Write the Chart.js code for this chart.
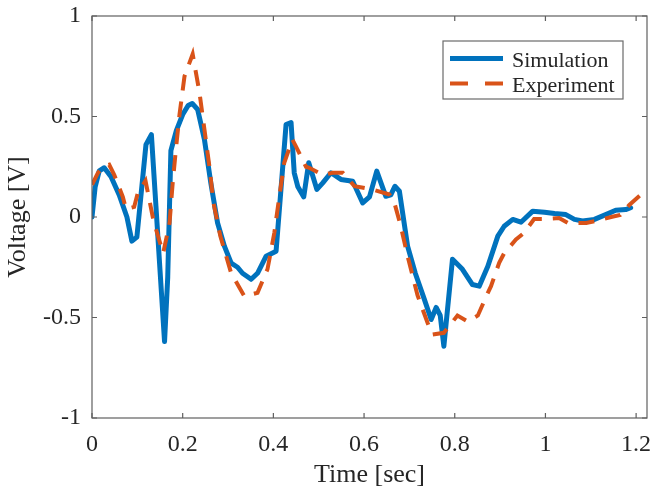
<!DOCTYPE html>
<html>
<head>
<meta charset="utf-8">
<script src="https://cdn.jsdelivr.net/npm/chart.js@4.4.1/dist/chart.umd.min.js"></script>
<style>
  html, body { margin: 0; padding: 0; background: #fff; }
  #wrap { width: 650px; height: 493px; }
</style>
</head>
<body>
<div id="wrap"><canvas id="voltageChart" width="650" height="493"></canvas></div>
<script>
'use strict';

// Simulated response
const simTime = [0, 0.007, 0.016, 0.027, 0.042, 0.060, 0.077, 0.088, 0.099, 0.119, 0.131, 0.160, 0.167, 0.174, 0.186,
  0.200, 0.212, 0.221, 0.233, 0.248, 0.262, 0.277, 0.292, 0.307, 0.321, 0.332, 0.351, 0.365, 0.384, 0.406,
  0.428, 0.439, 0.446, 0.454, 0.467, 0.478, 0.496, 0.509, 0.527, 0.549, 0.575, 0.597, 0.612, 0.628, 0.648,
  0.659, 0.668, 0.678, 0.696, 0.713, 0.733, 0.748, 0.759, 0.768, 0.776, 0.795, 0.817, 0.839, 0.854, 0.873,
  0.895, 0.909, 0.928, 0.946, 0.972, 0.998, 1.020, 1.045, 1.064, 1.082, 1.108, 1.133, 1.155, 1.177, 1.188];
const simVoltage = [0, 0.15, 0.23, 0.245, 0.20, 0.11, 0.0, -0.12, -0.10, 0.36, 0.41, -0.62, -0.30, 0.33, 0.43,
  0.51, 0.555, 0.565, 0.535, 0.385, 0.17, -0.03, -0.145, -0.23, -0.25, -0.28, -0.31, -0.28, -0.195, -0.17,
  0.46, 0.47, 0.22, 0.15, 0.10, 0.27, 0.137, 0.17, 0.22, 0.187, 0.178, 0.07, 0.10, 0.228, 0.103,
  0.11, 0.153, 0.128, -0.145, -0.28, -0.41, -0.51, -0.45, -0.49, -0.643, -0.21, -0.26, -0.336, -0.344, -0.245,
  -0.095, -0.046, -0.012, -0.026, 0.029, 0.024, 0.017, 0.012, -0.012, -0.02, -0.012, 0.012, 0.034, 0.037, 0.046];

// Measured response
const expTime = [0, 0.013, 0.025, 0.038, 0.049, 0.068, 0.075, 0.093, 0.101, 0.118, 0.134, 0.141, 0.157, 0.171,
  0.178, 0.185, 0.193, 0.204, 0.222, 0.237, 0.248, 0.259, 0.268, 0.283, 0.307, 0.336, 0.365, 0.387, 0.402,
  0.413, 0.424, 0.442, 0.450, 0.472, 0.479, 0.509, 0.531, 0.553, 0.579, 0.618, 0.656, 0.667, 0.681, 0.696,
  0.718, 0.740, 0.751, 0.776, 0.806, 0.829, 0.851, 0.873, 0.880, 0.898, 0.909, 0.935, 0.953, 0.975, 0.995,
  1.030, 1.050, 1.090, 1.110, 1.145, 1.165, 1.185, 1.210];
const expVoltage = [0.16, 0.22, 0.25, 0.26, 0.21, 0.10, 0.04, 0.05, 0.12, 0.18, 0.0, -0.06, -0.18, -0.03,
  0.17, 0.336, 0.51, 0.70, 0.81, 0.62, 0.435, 0.25, 0.07, -0.095, -0.28, -0.394, -0.377, -0.26, -0.08,
  0.10, 0.27, 0.385, 0.35, 0.25, 0.245, 0.21, 0.22, 0.22, 0.153, 0.137, 0.112, 0.07, -0.046, -0.195,
  -0.39, -0.526, -0.585, -0.576, -0.49, -0.52, -0.49, -0.377, -0.344, -0.228, -0.18, -0.112, -0.079, -0.01, -0.01,
  -0.005, -0.03, -0.03, -0.02, 0.0, 0.01, 0.06, 0.11];

const xTicks = [0, 0.2, 0.4, 0.6, 0.8, 1, 1.2];
const yTicks = [-1, -0.5, 0, 0.5, 1];
const seriesLabels = ['Simulation', 'Experiment'];

const serif = '"Times New Roman", "Liberation Serif", serif';
const axisColor = '#5f5f5f';
const textColor = '#262626';

function toPoints(xs, ys) {
    return xs.map((x, i) => ({ x: x, y: ys[i] }));
}

// box round the plot area, ticks pointing inward on all four sides
const boxAxesPlugin = {
    id: 'boxAxes',
    afterDatasetsDraw(chart) {
        const { ctx, chartArea: a, scales } = chart;
        const len = 5;
        ctx.save();
        ctx.strokeStyle = axisColor;
        ctx.lineWidth = 1.2;
        ctx.strokeRect(a.left, a.top, a.right - a.left, a.bottom - a.top);
        ctx.beginPath();
        xTicks.forEach(v => {
            const px = scales.x.getPixelForValue(v);
            ctx.moveTo(px, a.bottom); ctx.lineTo(px, a.bottom - len);
            ctx.moveTo(px, a.top); ctx.lineTo(px, a.top + len);
        });
        yTicks.forEach(v => {
            const py = scales.y.getPixelForValue(v);
            ctx.moveTo(a.left, py); ctx.lineTo(a.left + len, py);
            ctx.moveTo(a.right, py); ctx.lineTo(a.right - len, py);
        });
        ctx.stroke();
        ctx.restore();
    }
};

// framed legend in the upper right corner
const boxLegendPlugin = {
    id: 'boxLegend',
    afterDraw(chart, args, opts) {
        const { ctx } = chart;
        ctx.save();
        ctx.fillStyle = '#fff';
        ctx.fillRect(opts.left, opts.top, opts.width, opts.height);
        ctx.strokeStyle = '#6a6a6a';
        ctx.lineWidth = 1.2;
        ctx.strokeRect(opts.left, opts.top, opts.width, opts.height);

        ctx.font = opts.fontSize + 'px ' + serif;
        ctx.textBaseline = 'alphabetic';
        chart.data.datasets.forEach((ds, i) => {
            const rowY = opts.firstRow + i * opts.rowGap;
            ctx.strokeStyle = ds.borderColor;
            ctx.lineWidth = ds.borderWidth;
            ctx.setLineDash(ds.borderDash ? opts.legendDash : []);
            ctx.beginPath();
            ctx.moveTo(opts.lineStart, rowY);
            ctx.lineTo(opts.lineEnd, rowY);
            ctx.stroke();
            ctx.setLineDash([]);
            ctx.fillStyle = textColor;
            ctx.fillText(ds.label, opts.textX, rowY + 8.3);
        });
        ctx.restore();
    }
};

const ctx = document.getElementById('voltageChart').getContext('2d');

const voltageChart = new Chart(ctx, {
    type: 'line',
    data: {
        datasets: [
            {
                label: seriesLabels[0],
                data: toPoints(simTime, simVoltage),
                borderColor: '#0072BD',
                borderWidth: 5,
                borderJoinStyle: 'round',
                borderCapStyle: 'round',
                pointRadius: 0,
                tension: 0,
                order: 2
            },
            {
                label: seriesLabels[1],
                data: toPoints(expTime, expVoltage),
                borderColor: '#D95319',
                borderWidth: 4,
                borderDash: [16, 11],
                pointRadius: 0,
                tension: 0,
                order: 1
            }
        ]
    },
    options: {
        responsive: false,
        animation: false,
        devicePixelRatio: 1,
        layout: {
            padding: { top: 16, right: 3, left: 0, bottom: 0 }
        },
        plugins: {
            legend: { display: false },
            tooltip: { enabled: false },
            boxLegend: {
                left: 443, top: 41, width: 180, height: 58,
                firstRow: 58.5, rowGap: 25,
                lineStart: 450, lineEnd: 503, textX: 512,
                fontSize: 22,
                legendDash: [18, 17]
            }
        },
        scales: {
            x: {
                type: 'linear',
                min: 0,
                max: 1.224,
                afterBuildTicks: s => { s.ticks = xTicks.map(v => ({ value: v })); },
                afterFit: s => { s.height = 75; s.paddingLeft = 0; s.paddingRight = 0; },
                grid: { display: false, drawTicks: false },
                border: { display: false },
                ticks: {
                    color: textColor,
                    padding: 12,
                    maxRotation: 0,
                    autoSkip: false,
                    font: { family: serif, size: 24 },
                    callback: v => String(v)
                },
                title: {
                    display: true,
                    text: 'Time [sec]',
                    color: textColor,
                    padding: { top: 0, bottom: 2 },
                    font: { family: serif, size: 26 }
                }
            },
            y: {
                type: 'linear',
                min: -1,
                max: 1,
                afterBuildTicks: s => { s.ticks = yTicks.map(v => ({ value: v })); },
                afterFit: s => { s.width = 92; s.paddingTop = 0; s.paddingBottom = 0; },
                grid: { display: false, drawTicks: false },
                border: { display: false },
                ticks: {
                    color: textColor,
                    padding: 11,
                    autoSkip: false,
                    font: { family: serif, size: 24 },
                    callback: v => String(v)
                },
                title: {
                    display: true,
                    text: 'Voltage [V]',
                    color: textColor,
                    padding: { top: 3, bottom: 0 },
                    font: { family: serif, size: 26 }
                }
            }
        }
    },
    plugins: [boxAxesPlugin, boxLegendPlugin]
});
</script>
</body>
</html>
